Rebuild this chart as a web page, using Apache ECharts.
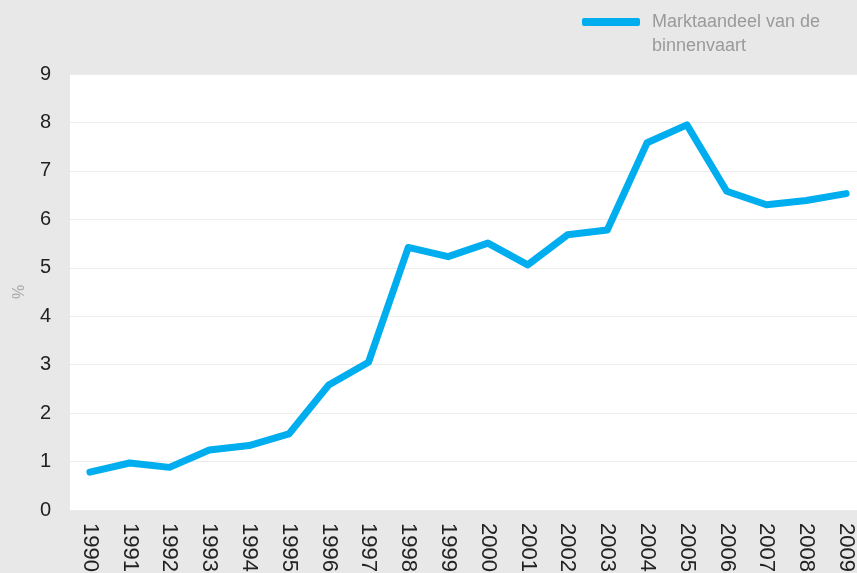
<!DOCTYPE html>
<html>
<head>
<meta charset="utf-8">
<script src="https://cdn.jsdelivr.net/npm/echarts@6/dist/echarts.min.js"></script>
<style>
  html, body { margin: 0; padding: 0; background: #e8e8e8; }
  #chart { width: 857px; height: 573px; }
</style>
</head>
<body>
<div id="chart"></div>
<script>
const years = ["1990", "1991", "1992", "1993", "1994", "1995", "1996", "1997", "1998", "1999",
  "2000", "2001", "2002", "2003", "2004", "2005", "2006", "2007", "2008", "2009"];
const marktaandeel = [0.78, 0.97, 0.88, 1.24, 1.33, 1.57, 2.58, 3.05, 5.42, 5.23,
  5.51, 5.06, 5.68, 5.78, 7.58, 7.95, 6.58, 6.30, 6.39, 6.53];
const seriesName = "Marktaandeel van de binnenvaart";

const font = "Liberation Sans, Arial, sans-serif";
const chart = echarts.init(document.getElementById("chart"));
chart.setOption({
  backgroundColor: "#e8e8e8",
  animation: false,
  legend: {
    left: 582,
    top: 13,
    padding: 0,
    icon: "roundRect",
    itemWidth: 58,
    itemHeight: 8,
    itemGap: 10,
    formatter: () => "Marktaandeel van de",
    textStyle: { color: "#9a9a9a", fontSize: 18, fontFamily: font, padding: [0, 0, 0, 7] },
    data: [seriesName]
  },
  // tweede regel van de legendatekst
  graphic: [
    {
      type: "text",
      left: 652,
      top: 37,
      style: { text: "binnenvaart", fill: "#9a9a9a", fontSize: 18, fontFamily: font }
    }
  ],
  grid: {
    left: 70,
    top: 74,
    width: 796,
    bottom: 63,
    outerBoundsMode: "none",
    containLabel: false,
    show: true,
    backgroundColor: "#ffffff",
    borderWidth: 0
  },
  xAxis: {
    type: "category",
    data: years,
    boundaryGap: true,
    axisLine: { show: false },
    axisTick: { show: false },
    axisLabel: {
      rotate: -90,
      margin: 13,
      color: "#222",
      fontSize: 22,
      fontFamily: font
    }
  },
  yAxis: {
    type: "value",
    min: 0,
    max: 9,
    interval: 1,
    name: "%",
    nameLocation: "middle",
    nameGap: 42,
    nameRotate: 90,
    nameTextStyle: { color: "#a8a8a8", fontSize: 16, fontFamily: font },
    axisLine: { show: false },
    axisTick: { show: false },
    splitLine: { lineStyle: { color: "#ececec", width: 1 } },
    axisLabel: {
      margin: 19,
      color: "#222",
      fontSize: 20,
      fontFamily: font
    }
  },
  series: [
    {
      name: seriesName,
      type: "line",
      data: marktaandeel,
      showSymbol: false,
      symbol: "none",
      lineStyle: {
        color: "#00aeef",
        width: 7,
        cap: "round",
        join: "round"
      },
      itemStyle: { color: "#00aeef" }
    }
  ]
});
</script>
</body>
</html>
